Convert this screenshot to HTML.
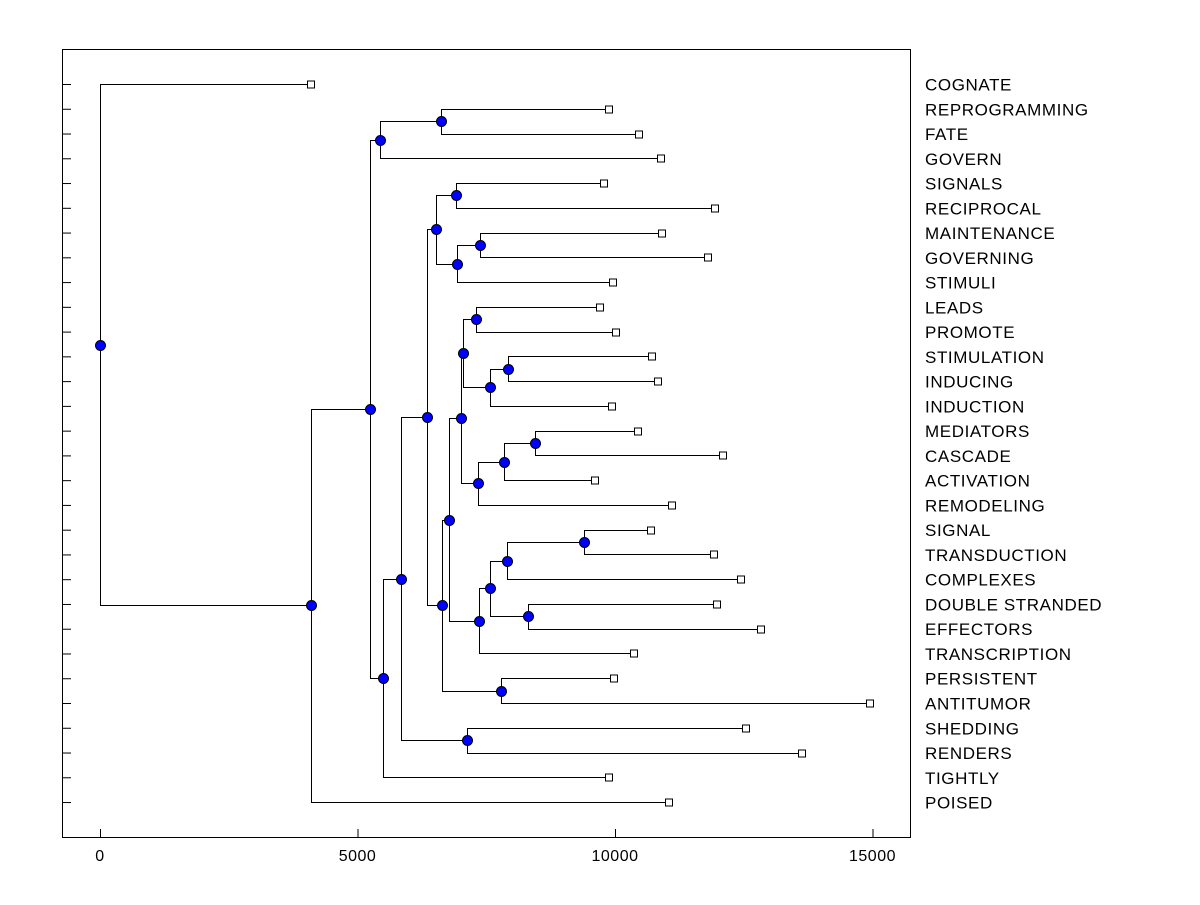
<!DOCTYPE html>
<html><head><meta charset="utf-8"><style>
body{margin:0;background:#fff;}
svg text{font-family:"Liberation Sans",Arial,sans-serif;}
</style></head><body>
<svg id="chart" width="1200" height="900" xmlns="http://www.w3.org/2000/svg">
<rect x="62.5" y="49.5" width="848" height="788" fill="none" stroke="#000" stroke-width="1"/>
<g id="g"></g>
</svg>
<script>
const labels=["COGNATE","REPROGRAMMING","FATE","GOVERN","SIGNALS","RECIPROCAL","MAINTENANCE","GOVERNING","STIMULI","LEADS","PROMOTE","STIMULATION","INDUCING","INDUCTION","MEDIATORS","CASCADE","ACTIVATION","REMODELING","SIGNAL","TRANSDUCTION","COMPLEXES","DOUBLE STRANDED","EFFECTORS","TRANSCRIPTION","PERSISTENT","ANTITUMOR","SHEDDING","RENDERS","TIGHTLY","POISED"];
const leafValues=[4100,9890,10470,10900,9790,11950,10920,11810,9970,9700,10010,10720,10840,9950,10450,12100,9620,11110,10690,11930,12450,11990,12840,10360,9990,14960,12550,13640,9890,11050];
const mergeLeft=[1,30,4,6,33,32,9,11,37,36,14,40,41,39,18,44,21,45,47,43,24,49,35,26,52,54,31,56,0];
const mergeRight=[2,3,5,7,8,34,10,12,13,38,15,16,17,42,19,20,22,46,23,48,25,50,51,27,53,28,55,29,57];
const mergeHeights=[6625,5440,6920,7380,6940,6530,7300,7930,7580,7050,8450,7850,7340,7010,9400,7910,8320,7580,7360,6780,7790,6645,6350,7130,5850,5500,5245,4100,0];
const xTicks=[0,5000,10000,15000];

const NS="http://www.w3.org/2000/svg";
const g=document.getElementById('g');
const sx=v=>100+v*0.0515;
const sy=i=>84+i*24.76;
function mk(tag,attrs,parent){const e=document.createElementNS(NS,tag);for(const k in attrs)e.setAttribute(k,attrs[k]);(parent||g).appendChild(e);return e;}
const N=labels.length;
const nx=[],ny=[];
for(let i=0;i<N;i++){nx[i]=sx(leafValues[i]);ny[i]=sy(i);}
for(let m=0;m<mergeLeft.length;m++){const id=N+m;nx[id]=sx(mergeHeights[m]);ny[id]=(ny[mergeLeft[m]]+ny[mergeRight[m]])/2;}
for(let i=0;i<N;i++){
  const t=mk('line',{x1:62,x2:71,y1:sy(i)+0.5,y2:sy(i)+0.5,stroke:'#000'});
  
  
  const tx=mk('text',{x:925,y:sy(i)+6.5,'font-size':17,'letter-spacing':0.6,fill:'#000'});
  tx.textContent=labels[i];
  
  
}
xTicks.forEach(v=>{
  const t=mk('line',{x1:sx(v)+0.5,x2:sx(v)+0.5,y1:829,y2:838,stroke:'#000'});
  
  
  const tx=mk('text',{x:sx(v),y:861,'font-size':16,'letter-spacing':0.5,'text-anchor':'middle'});
  tx.textContent=v;
  
  
});
for(let m=0;m<mergeLeft.length;m++){
  const id=N+m,a=mergeLeft[m],b=mergeRight[m],x=Math.round(nx[id])+0.5;
  const p=mk('path',{d:`M${Math.round(nx[a])} ${Math.round(ny[a])+0.5}H${x}V${Math.round(ny[b])+0.5}H${Math.round(nx[b])}`,fill:'none',stroke:'#000','stroke-width':1});
  
  
}
for(let i=0;i<N;i++){
  const r=mk('rect',{x:Math.round(nx[i])-3.5,y:Math.round(ny[i])-3,width:7,height:7,fill:'#fff',stroke:'#000'});
  
  
}
for(let m=0;m<mergeLeft.length;m++){
  const id=N+m;
  const c=mk('circle',{cx:Math.round(nx[id])+0.5,cy:Math.round(ny[id])+0.5,r:5,fill:'#0000ff',stroke:'#000','stroke-width':1});
  
  
}
</script>
</body></html>
